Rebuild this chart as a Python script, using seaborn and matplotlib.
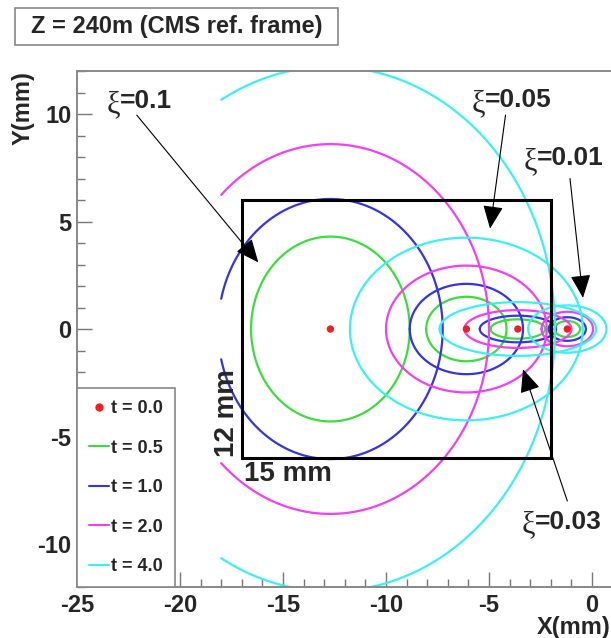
import matplotlib
matplotlib.use("Agg")
import matplotlib.pyplot as plt
import numpy as np
import pandas as pd
import seaborn as sns
from matplotlib.lines import Line2D
from matplotlib.patches import Rectangle
from matplotlib.ticker import MultipleLocator

# ---- values ------------------------------------------------------------
xi_labels = ["0.1", "0.05", "0.03", "0.01"]
xi_centre_x = [-12.7, -6.1, -3.6, -1.2]        # red dots (t = 0)
t_values = [0.5, 1.0, 2.0, 4.0]
# ellipse half-widths (x) and half-heights (y) in mm, one entry per xi
semi_x = {
    0.5: [3.85, 1.95, 1.33, 0.62],
    1.0: [5.45, 2.75, 1.85, 0.90],
    2.0: [7.70, 3.90, 2.60, 1.25],
    4.0: [10.9, 5.65, 3.80, 1.90],
}
semi_y = {
    0.5: [4.30, 1.50, 0.45, 0.37],
    1.0: [6.05, 2.10, 0.62, 0.55],
    2.0: [8.60, 2.95, 0.88, 0.80],
    4.0: [12.2, 4.25, 1.25, 1.10],
}
x_cut = -18.0   # curves are not drawn left of this x

# detector window (15 mm x 12 mm)
win_x0, win_y0, win_w, win_h = -17.0, -6.0, 15.0, 12.0

# arrow labels: text anchor (x, y), arrow tail, arrow head
arrow_text_xy = {"0.1": (-22.9, 10.6), "0.05": (-5.2, 10.65),
                 "0.01": (-2.67, 7.94), "0.03": (-2.77, -8.97)}
arrow_tail = {"0.1": (-22.1, 9.95), "0.05": (-4.2, 9.95),
              "0.01": (-1.07, 7.0), "0.03": (-1.2, -8.0)}
arrow_head = {"0.1": (-16.2, 3.1), "0.05": (-4.95, 4.67),
              "0.01": (-0.44, 1.45), "0.03": (-3.35, -1.87)}

palette = {0.5: "#3ddc3d", 1.0: "#3434e6", 2.0: "#f040f0", 4.0: "#3cf0f0"}
dot_color = "#f02020"

# ---- build curve table ---------------------------------------------------
rows = []
for t in t_values:
    for i, cx in enumerate(xi_centre_x):
        a, b = semi_x[t][i], semi_y[t][i]
        th_max = np.pi
        if cx - a < x_cut:
            th_max = np.arccos((x_cut - cx) / a)
        th = np.linspace(-th_max, th_max, 400)
        for xx, yy in zip(cx + a * np.cos(th), b * np.sin(th)):
            rows.append({"x": xx, "y": yy, "t": t, "curve": f"{t}_{i}"})
curves = pd.DataFrame(rows)

sns.set_style("ticks")
plt.rcParams["font.family"] = ["Liberation Sans", "DejaVu Sans"]
plt.rcParams["font.weight"] = "bold"
plt.rcParams["axes.unicode_minus"] = False

fig = plt.figure(figsize=(6.11, 6.38), dpi=100)
ax = fig.add_axes([0.126, 0.0799, 0.874, 0.8088])

sns.lineplot(data=curves, x="x", y="y", hue="t", units="curve", estimator=None,
             sort=False, palette=palette, lw=1.6, legend=False, ax=ax)
sns.scatterplot(x=xi_centre_x, y=[0.0] * len(xi_centre_x), color=dot_color,
                s=28, edgecolor="none", zorder=5, ax=ax)

ax.add_patch(Rectangle((win_x0, win_y0), win_w, win_h, fill=False,
                       edgecolor="black", lw=2.2, zorder=4))
ax.text(win_x0 - 0.1, win_y0 + 0.05, "12 mm", rotation=90, ha="right",
        va="bottom", fontsize=20, fontweight="bold")
ax.text(win_x0 + 0.1, win_y0 - 0.15, "15 mm", ha="left", va="top",
        fontsize=20, fontweight="bold")

for lab in xi_labels:
    tx, ty = arrow_text_xy[lab]
    ax.text(tx, ty - 0.15, "ξ", ha="right", va="center", fontsize=22,
            family=["Liberation Serif", "DejaVu Serif"], fontweight="normal")
    ax.text(tx, ty, "=" + lab, ha="left", va="center", fontsize=19,
            fontweight="bold")
    ax.annotate("", xy=arrow_head[lab], xytext=arrow_tail[lab],
                arrowprops=dict(arrowstyle="-|>,head_length=0.8,head_width=0.35",
                                color="black", lw=0.8, shrinkA=0, shrinkB=0,
                                mutation_scale=18))

ax.set_xlim(-25, 0.92)
ax.set_ylim(-12, 12)
ax.xaxis.set_major_locator(MultipleLocator(5))
ax.xaxis.set_minor_locator(MultipleLocator(1))
ax.yaxis.set_major_locator(MultipleLocator(5))
ax.yaxis.set_minor_locator(MultipleLocator(1))
ax.tick_params(which="both", direction="in", color="#777777", width=1.0,
               labelsize=17, top=False, right=False)
ax.tick_params(which="major", length=11)
ax.tick_params(which="minor", length=6)
ax.tick_params(axis="y", pad=4)
ax.tick_params(axis="x", pad=5)
for s in ax.spines.values():
    s.set_color("#888888")
    s.set_linewidth(1.4)
ax.spines["right"].set_visible(False)

ax.set_xlabel("X(mm)", loc="right", fontsize=17, fontweight="bold")
ax.xaxis.set_label_coords(1.0, -0.057)
ax.set_ylabel("Y(mm)", loc="top", fontsize=17, fontweight="bold")
ax.yaxis.set_label_coords(-0.079, 1.0)

handles = [Line2D([], [], marker="o", ls="", color=dot_color, ms=5)]
handles += [Line2D([], [], color=palette[t], lw=1.5) for t in t_values]
labels = ["t = 0.0"] + [f"t = {t:.1f}" for t in t_values]
leg = ax.legend(handles, labels, loc="lower left", bbox_to_anchor=(0, 0),
                borderaxespad=0, fancybox=False, framealpha=1,
                edgecolor="#888888", handlelength=1.1, handletextpad=0.15,
                labelspacing=1.25, borderpad=0.65,
                prop={"size": 13, "weight": "bold"})
leg.get_frame().set_linewidth(1.2)

# title box
fig.patches.append(Rectangle((15 / 611, 1 - 45 / 638), 323 / 611, 37 / 638,
                             transform=fig.transFigure, facecolor="white",
                             edgecolor="#888888", lw=1.2))
fig.text(176.5 / 611, 1 - 26.5 / 638, "Z = 240m (CMS ref. frame)",
         ha="center", va="center", fontsize=17, fontweight="bold")

fig.savefig("out.png", dpi=100)
